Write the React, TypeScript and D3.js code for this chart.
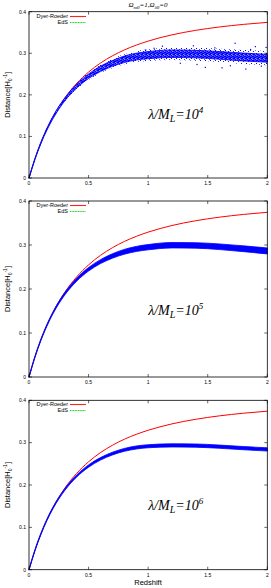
import React from "react";
import * as d3 from "d3";

const redshift = [0, 0.05, 0.1, 0.15, 0.2, 0.3, 0.4, 0.5, 0.6, 0.7, 0.8, 0.9, 1.0, 1.2, 1.4, 1.6, 1.8, 2.0];
const dyerRoeder = [0, 0.0459, 0.0848, 0.118, 0.1464, 0.1924, 0.2275, 0.2548, 0.2765, 0.2938, 0.308, 0.3196, 0.3293, 0.3443, 0.3552, 0.3633, 0.3695, 0.3743];
const eds = [0, 0.0459, 0.0846, 0.1174, 0.1452, 0.1891, 0.2212, 0.2447, 0.2618, 0.2741, 0.2829, 0.2889, 0.2929, 0.2962, 0.2954, 0.2922, 0.2874, 0.2818];

// blue scatter band: centre and half-widths
const mid1 = [0, 0.0458, 0.0846, 0.1172, 0.145, 0.1888, 0.2208, 0.2448, 0.2625, 0.2755, 0.2855, 0.292, 0.2955, 0.299, 0.298, 0.295, 0.291, 0.288];
const core1 = [0.001, 0.0015, 0.002, 0.0025, 0.003, 0.0035, 0.0045, 0.0055, 0.0065, 0.007, 0.0078, 0.0082, 0.0085, 0.009, 0.009, 0.0092, 0.0095, 0.0095];
const outer1 = [0.001, 0.002, 0.003, 0.0035, 0.004, 0.005, 0.007, 0.009, 0.01, 0.011, 0.012, 0.013, 0.014, 0.015, 0.016, 0.016, 0.017, 0.017];
const mid2 = [0, 0.0458, 0.0846, 0.1173, 0.1452, 0.189, 0.2212, 0.2448, 0.2622, 0.275, 0.2845, 0.291, 0.295, 0.2995, 0.299, 0.296, 0.2915, 0.2865];
const core2 = [0.001, 0.0015, 0.0018, 0.002, 0.0022, 0.0028, 0.0035, 0.004, 0.0045, 0.005, 0.0055, 0.0058, 0.006, 0.0062, 0.0062, 0.0064, 0.0066, 0.0068];
const mid3 = [0, 0.0459, 0.0846, 0.1174, 0.1452, 0.1891, 0.2212, 0.2447, 0.2618, 0.2741, 0.2829, 0.2885, 0.2915, 0.2935, 0.293, 0.2905, 0.287, 0.284];
const core3 = [0.001, 0.0015, 0.0018, 0.002, 0.002, 0.0022, 0.0025, 0.0028, 0.003, 0.0032, 0.0034, 0.0036, 0.0036, 0.0037, 0.0038, 0.0038, 0.0038, 0.0038];

// isolated outliers in the first panel
const outlierZ = [1.73, 1.05, 1.9, 1.95, 1.62, 1.38, 1.82, 1.99, 1.48, 1.12, 0.98, 1.27, 1.56, 1.69, 1.86, 1.41];
const outlierD = [0.324, 0.312, 0.316, 0.269, 0.265, 0.318, 0.262, 0.314, 0.266, 0.317, 0.308, 0.276, 0.313, 0.27, 0.309, 0.273];

const xTicks = [0, 0.5, 1, 1.5, 2];
const yTicks = [0, 0.1, 0.2, 0.3, 0.4];
const panelExps = ["4", "5", "6"];

const panels = [
  { top: 11.7, bottom: 178, mid: mid1, core: core1, outer: outer1, outliers: true },
  { top: 201, bottom: 377, mid: mid2, core: core2, outer: null, outliers: false },
  { top: 400.3, bottom: 569.7, mid: mid3, core: core3, outer: null, outliers: false },
];

const X0 = 29;
const X1 = 267.3;
const sans = "Liberation Sans, Arial, sans-serif";
const serif = "Liberation Serif, Times New Roman, serif";

function Panel({ p, idx }: { p: any; idx: number }) {
  const x = d3.scaleLinear().domain([0, 2]).range([X0, X1]);
  const y = d3.scaleLinear().domain([0, 0.4]).range([p.bottom, p.top]);
  const pts = redshift.map((z, i) => i);
  const line = (vals: number[]) =>
    d3.line<number>().x((i) => x(redshift[i])).y((i) => y(vals[i])).curve(d3.curveMonotoneX)(pts) as string;
  const band = (hw: number[]) =>
    d3
      .area<number>()
      .x((i) => x(redshift[i]))
      .y0((i) => y(p.mid[i] - hw[i]))
      .y1((i) => y(p.mid[i] + hw[i]))
      .curve(d3.curveMonotoneX)(pts) as string;
  const tl = 3;
  const midY = (p.top + p.bottom) / 2;
  const ly = Math.round(p.top + 4) + 0.5;
  return (
    <g>
      <defs>
        <pattern id={`sparse${idx}`} width="5" height="5" patternUnits="userSpaceOnUse">
          <rect x="0" y="0" width="1" height="1" fill="#0000ff" />
          <rect x="3" y="1" width="1" height="1" fill="#2020ff" />
          <rect x="1" y="3" width="1" height="1" fill="#0000ff" />
          <rect x="4" y="4" width="1" height="1" fill="#4040ff" />
        </pattern>
        <pattern id={`dense${idx}`} width="4" height="4" patternUnits="userSpaceOnUse">
          <rect x="0" y="0" width="4" height="4" fill="#3a3aff" />
          <rect x="0" y="0" width="2" height="1" fill="#0000ff" />
          <rect x="2" y="1" width="2" height="1" fill="#0000ff" />
          <rect x="1" y="2" width="2" height="1" fill="#0000ff" />
          <rect x="3" y="3" width="1" height="1" fill="#0000ff" />
          <rect x="3" y="2" width="1" height="1" fill="#9090ff" />
          <rect x="0" y="3" width="1" height="1" fill="#8080ff" />
        </pattern>
      </defs>
      {/* curves */}
      <path d={line(dyerRoeder)} fill="none" stroke="#ff0000" strokeWidth={1} />
      <path d={line(eds)} fill="none" stroke="#00c800" strokeWidth={1} strokeDasharray="1,1" />
      {p.outer && <path d={band(p.outer)} fill={`url(#sparse${idx})`} stroke="none" />}
      {p.outer ? (
        <path d={band(p.core)} fill={`url(#dense${idx})`} stroke="#0000ff" strokeWidth={0.8} />
      ) : (
        <path d={band(p.core)} fill="#0000ff" stroke="#0000ff" strokeWidth={0.8} />
      )}
      {p.outliers &&
        outlierZ.map((z, i) => (
          <rect key={i} x={x(z) - 0.6} y={y(outlierD[i]) - 0.6} width={1.2} height={1.2} fill="#0000ff" />
        ))}
      {/* frame */}
      <rect x={X0} y={p.top} width={X1 - X0} height={p.bottom - p.top} fill="none" stroke="#000" strokeWidth={0.8} />
      {xTicks.map((t) => (
        <g key={`x${t}`}>
          <line x1={x(t)} x2={x(t)} y1={p.bottom} y2={p.bottom - tl} stroke="#000" strokeWidth={0.6} />
          <line x1={x(t)} x2={x(t)} y1={p.top} y2={p.top + tl} stroke="#000" strokeWidth={0.6} />
          <text x={x(t)} y={p.bottom + 7} fontSize={5} fontFamily={sans} textAnchor="middle" fill="#000">
            {String(t)}
          </text>
        </g>
      ))}
      {yTicks.map((t) => (
        <g key={`y${t}`}>
          <line x1={X0} x2={X0 + tl} y1={y(t)} y2={y(t)} stroke="#000" strokeWidth={0.6} />
          <line x1={X1} x2={X1 - tl} y1={y(t)} y2={y(t)} stroke="#000" strokeWidth={0.6} />
          <text x={X0 - 3} y={y(t) + 1.8} fontSize={5} fontFamily={sans} textAnchor="end" fill="#000">
            {String(t)}
          </text>
        </g>
      ))}
      {/* legend */}
      <text x={68} y={ly + 1.5} fontSize={5.5} fontFamily={sans} textAnchor="end" fill="#000">Dyer-Roeder</text>
      <line x1={70} x2={86} y1={ly} y2={ly} stroke="#ff2020" strokeWidth={1.1} />
      <text x={68} y={ly + 7.5} fontSize={5.5} fontFamily={sans} textAnchor="end" fill="#000">EdS</text>
      <line x1={70} x2={86} y1={ly + 6} y2={ly + 6} stroke="#00dd00" strokeWidth={1.1} strokeDasharray="1,0.6" />
      {/* annotation */}
      <text x={x(1.0)} y={y(0.142)} fontSize={14} fontFamily={serif} fontStyle="italic" fill="#000">
        λ/M<tspan fontSize={10} dy={3}>L</tspan>
        <tspan dy={-3}>=10</tspan>
        <tspan fontSize={9} dy={-6}>{panelExps[idx]}</tspan>
      </text>
      {/* y label */}
      <text
        transform={`translate(10,${midY}) rotate(-90)`}
        fontSize={7.5}
        fontFamily={sans}
        textAnchor="middle"
        fill="#000"
      >
        Distance[H<tspan fontSize={5} dy={2}>0</tspan>
        <tspan fontSize={5} dy={-5}>-1</tspan>
        <tspan dy={3}>]</tspan>
      </text>
    </g>
  );
}

export default function App() {
  return (
    <svg
      width={271}
      height={588}
      style={{ position: "absolute", left: 0, top: 0, background: "#fff" }}
    >
      <rect x={0} y={0} width={271} height={588} fill="#fff" />
      <text x={148} y={7} fontSize={7} fontFamily={serif} fontStyle="italic" textAnchor="middle" fill="#000">
        Ω<tspan fontSize={5} dy={1.5}>m0</tspan>
        <tspan dy={-1.5}>=1,Ω</tspan>
        <tspan fontSize={5} dy={1.5}>λ0</tspan>
        <tspan dy={-1.5}>=0</tspan>
      </text>
      {panels.map((p, i) => (
        <Panel key={i} p={p} idx={i} />
      ))}
      <text x={148} y={585} fontSize={7.5} fontFamily={sans} textAnchor="middle" fill="#000">
        Redshift
      </text>
    </svg>
  );
}
